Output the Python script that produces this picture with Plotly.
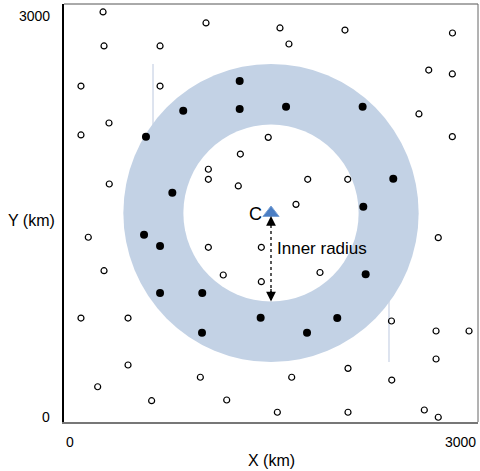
import plotly.graph_objects as go

# ---- data (km) ----
open_x = [283, 1029, 1565, 2036, 2815, 290, 696, 1630, 2643, 2814, 123, 696, 326, 123, 1480,
          2814, 2572, 1278, 1046, 1046, 1263, 1766, 2056, 328, 1681, 176, 1046, 1430, 2712, 290,
          1154, 1855, 1430, 123, 464, 2373, 2696, 2935, 2696, 464, 2058, 988, 1650, 244, 2375,
          635, 1179, 1546, 2058, 2611, 2712]
open_y = [2943, 2864, 2828, 2813, 2792, 2699, 2699, 2713, 2526, 2498, 2411, 2411, 2146, 2060, 2043,
          2048, 2211, 1923, 1814, 1742, 1694, 1742, 1742, 1708, 1562, 1326, 1254, 1254, 1323, 1086,
          1055, 1073, 1007, 746, 746, 725, 653, 653, 452, 409, 385, 321, 321, 253, 301,
          153, 158, 70, 70, 86, 34]
filled_x = [594, 864, 1273, 1273, 1609, 2164, 2386, 785, 2169, 580, 696, 2186, 696, 1002, 1425,
            1980, 1000, 1761]
filled_y = [2048, 2234, 2447, 2246, 2263, 2263, 1746, 1646, 1545, 1344, 1263, 1060, 926, 926, 749,
            746, 641, 641]

center_x, center_y = 1500, 1500
inner_radius = 635
outer_radius = 1070
guide_x = [645, 2355]            # faint vertical guides partly hidden by the ring

x_ticks = [0, 3000]
x_tick_labels = ["0", "3000"]
y_ticks = [0, 3000]
y_tick_labels = ["0", "3000"]

FONT = "Liberation Sans, Arial, sans-serif"
RING = "#c3d2e5"

fig = go.Figure()

shapes = []
# faint guide lines (below ring)
shapes.append(dict(type="line", xref="x", yref="y", x0=guide_x[0], x1=guide_x[0],
                   y0=center_y, y1=center_y + outer_radius,
                   line=dict(color="#d3dbea", width=1.5), layer="below"))
shapes.append(dict(type="line", xref="x", yref="y", x0=guide_x[1], x1=guide_x[1],
                   y0=center_y - outer_radius, y1=center_y,
                   line=dict(color="#d3dbea", width=1.5), layer="below"))
# ring
shapes.append(dict(type="circle", xref="x", yref="y",
                   x0=center_x - outer_radius, x1=center_x + outer_radius,
                   y0=center_y - outer_radius, y1=center_y + outer_radius,
                   fillcolor=RING, line=dict(width=0), layer="below"))
shapes.append(dict(type="circle", xref="x", yref="y",
                   x0=center_x - inner_radius, x1=center_x + inner_radius,
                   y0=center_y - inner_radius, y1=center_y + inner_radius,
                   fillcolor="white", line=dict(width=0), layer="below"))
# top / right frame
shapes.append(dict(type="line", xref="paper", yref="paper", x0=0, x1=1, y0=1, y1=1,
                   line=dict(color="#555555", width=1)))
shapes.append(dict(type="line", xref="paper", yref="paper", x0=1, x1=1, y0=0, y1=1,
                   line=dict(color="#666666", width=1)))

fig.add_trace(go.Scatter(x=open_x, y=open_y, mode="markers",
                         marker=dict(symbol="circle-open", size=6, color="black",
                                     line=dict(width=1.2, color="black")),
                         showlegend=False, hoverinfo="skip"))
fig.add_trace(go.Scatter(x=filled_x, y=filled_y, mode="markers",
                         marker=dict(symbol="circle", size=8, color="black"),
                         showlegend=False, hoverinfo="skip"))
# dotted radius line
fig.add_trace(go.Scatter(x=[center_x, center_x], y=[center_y, center_y - inner_radius],
                         mode="lines", line=dict(color="black", width=1.3, dash="dot"),
                         showlegend=False, hoverinfo="skip"))
# centre marker
fig.add_trace(go.Scatter(x=[center_x], y=[center_y], mode="markers",
                         marker=dict(symbol="triangle-up", size=14, color="#4a7ec4",
                                     line=dict(color="#7aa2d6", width=1)),
                         showlegend=False, hoverinfo="skip"))

annotations = []
# arrowheads
annotations.append(dict(x=center_x, y=center_y, xref="x", yref="y", text="", showarrow=True,
                        ax=0, ay=14, arrowhead=2, arrowsize=1.5, arrowwidth=1.3,
                        arrowcolor="black", standoff=3))
annotations.append(dict(x=center_x, y=center_y - inner_radius, xref="x", yref="y", text="",
                        showarrow=True, ax=0, ay=-14, arrowhead=2, arrowsize=1.5,
                        arrowwidth=1.3, arrowcolor="black", standoff=0))
annotations.append(dict(x=center_x, y=center_y, xref="x", yref="y", text="C", showarrow=False,
                        xanchor="right", yanchor="middle", xshift=-7, yshift=-1,
                        font=dict(family=FONT, size=18, color="black")))
annotations.append(dict(x=center_x, y=center_y - inner_radius * 0.4, xref="x", yref="y",
                        text="Inner radius", showarrow=False, xanchor="left", yanchor="middle",
                        xshift=4, font=dict(family=FONT, size=17, color="black")))
# tick labels
for v, t, anchor in zip(x_ticks, x_tick_labels, ["left", "right"]):
    annotations.append(dict(x=v, y=0, xref="x", yref="paper", text=t, showarrow=False,
                            xanchor=anchor, yanchor="middle", yshift=-20,
                            font=dict(family=FONT, size=14, color="black")))
for v, t, anchor, sh in zip(y_ticks, y_tick_labels, ["bottom", "top"], [-5, -2]):
    annotations.append(dict(x=0, y=v, xref="paper", yref="y", text=t, showarrow=False,
                            xanchor="right", yanchor=anchor, xshift=-12, yshift=sh,
                            font=dict(family=FONT, size=14, color="black")))
# axis titles
annotations.append(dict(x=0.5, y=0, xref="paper", yref="paper", text="X (km)", showarrow=False,
                        xanchor="center", yanchor="middle", yshift=-38,
                        font=dict(family=FONT, size=16, color="black")))
annotations.append(dict(x=0, y=0.5, xref="paper", yref="paper", text="Y (km)", showarrow=False,
                        xanchor="center", yanchor="middle", xshift=-33, yshift=-7,
                        font=dict(family=FONT, size=16, color="black")))

fig.update_layout(
    width=480, height=471,
    margin=dict(l=64, r=2, t=4, b=49),
    paper_bgcolor="white", plot_bgcolor="white",
    shapes=shapes, annotations=annotations,
    xaxis=dict(range=[0, 3000], showgrid=False, zeroline=False, showticklabels=False,
               ticks="", showline=True, linecolor="#777777", linewidth=2, fixedrange=True),
    yaxis=dict(range=[0, 3000], showgrid=False, zeroline=False, showticklabels=False,
               ticks="", showline=True, linecolor="black", linewidth=1.5, fixedrange=True),
)

fig.write_html("out.html", config={"displayModeBar": False},
               post_script="document.body.style.margin='0';document.body.style.padding='0';")
